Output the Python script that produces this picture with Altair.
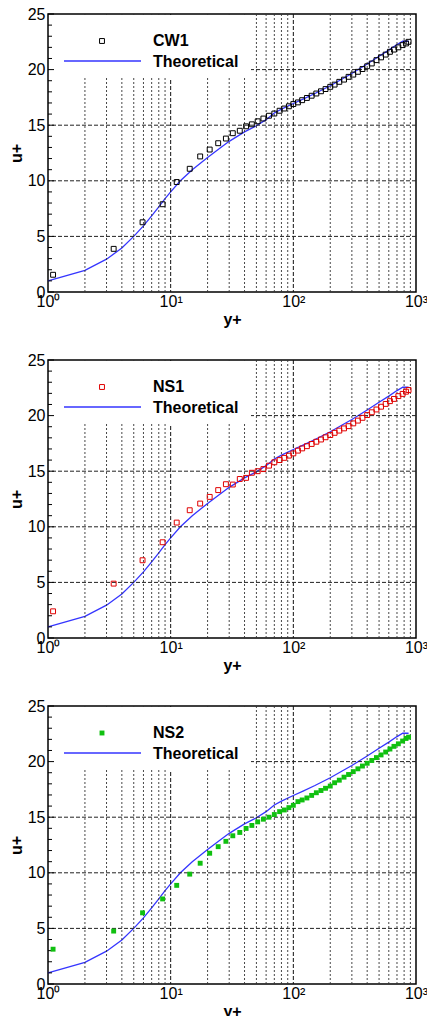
import altair as alt
import pandas as pd

# ---- data ----
yplus = [1.1, 3.43, 5.9, 8.6, 11.2, 14.3, 17.4, 20.8, 24.4, 28.2, 32.1, 36.6, 41.2, 45.9, 51.2,
         57.0, 63.3, 70.0, 77.3, 84.4, 92.0, 100, 109, 118, 129, 141, 154, 168, 183, 200,
         217, 237, 259, 282, 308, 336, 366, 400, 436, 476, 519, 566, 613, 661, 718, 778, 829, 870]

cw1_u = [1.55, 3.88, 6.27, 7.89, 9.89, 11.08, 12.19, 12.81, 13.38, 13.8, 14.28, 14.5, 14.9, 15.08, 15.35,
         15.6, 15.85, 16.05, 16.3, 16.5, 16.7, 16.9, 17.05, 17.25, 17.45, 17.65, 17.85, 18.05, 18.25, 18.45,
         18.65, 18.9, 19.1, 19.35, 19.55, 19.8, 20.05, 20.3, 20.55, 20.85, 21.1, 21.35, 21.6, 21.8, 22.0, 22.2, 22.35, 22.5]

ns1_u = [2.40, 4.89, 6.99, 8.61, 10.38, 11.49, 12.09, 12.69, 13.3, 13.83, 13.8, 14.3, 14.4, 14.86, 15.0,
         15.19, 15.5, 15.8, 16.0, 16.2, 16.4, 16.6, 16.85, 17.05, 17.25, 17.45, 17.65, 17.85, 18.05, 18.25,
         18.45, 18.65, 18.85, 19.05, 19.3, 19.55, 19.8, 20.05, 20.3, 20.55, 20.8, 21.05, 21.3, 21.5, 21.75, 21.95, 22.15, 22.3]

ns2_u = [3.13, 4.76, 6.40, 7.65, 8.87, 9.88, 10.86, 11.76, 12.35, 12.83, 13.33, 13.63, 13.99, 14.26, 14.58,
         14.82, 15.0, 15.24, 15.5, 15.65, 15.86, 16.07, 16.4, 16.55, 16.73, 16.96, 17.2, 17.4, 17.6, 17.8,
         18.1, 18.33, 18.6, 18.84, 19.1, 19.35, 19.6, 19.85, 20.1, 20.36, 20.6, 20.86, 21.13, 21.37, 21.6, 21.85, 22.08, 22.2]

theo_y = [1, 2, 3, 4, 5, 6, 7, 8, 9, 10, 12, 15, 20, 25, 30, 40, 50, 60, 70, 80, 100, 120, 150, 200,
          250, 300, 400, 500, 600, 700, 780, 870]
theo_u = [1.0, 1.95, 2.95, 3.95, 5.0, 5.95, 6.85, 7.65, 8.4, 9.0, 10.0, 11.0, 12.1, 12.9, 13.55, 14.4,
          14.95, 15.5, 16.1, 16.45, 16.95, 17.35, 17.85, 18.55, 19.15, 19.65, 20.5, 21.2, 21.75, 22.25, 22.55, 22.55]

minor_grid_x = [2, 3, 4, 5, 6, 7, 8, 9, 20, 30, 40, 50, 60, 70, 80, 90, 200, 300, 400, 500, 600, 700, 800, 900]
major_grid_x = [10, 100]
grid_y = [5, 10, 15, 20]
x_tick_values = [1, 10, 100, 1000]
y_tick_values = [0, 5, 10, 15, 20, 25]
y_minor_ticks = [v for v in range(1, 25) if v % 5 != 0]

W, H = 368, 278
FONT = "Liberation Sans"
BLUE = "#3535ff"

xscale = alt.Scale(type="log", domain=[1, 1000], nice=False)
yscale = alt.Scale(domain=[0, 25], nice=False, zero=False)

xaxis = alt.Axis(values=x_tick_values, title="y+",
                 labelExpr="datum.value == 1 ? '10⁰' : datum.value == 10 ? '10¹' : datum.value == 100 ? '10²' : '10³'",
                 ticks=False, domain=False, grid=False, labelFlush=False,
                 labelPadding=1, titlePadding=2,
                 labelFont=FONT, labelFontSize=16, labelColor="black",
                 titleFont=FONT, titleFontSize=16, titleFontWeight="bold", titleColor="black")
yaxis = alt.Axis(values=y_tick_values, title="u+", ticks=False, domain=False, grid=False,
                 labelPadding=3, titlePadding=3, labelFlush=False,
                 labelFont=FONT, labelFontSize=16, labelColor="black",
                 titleFont=FONT, titleFontSize=16, titleFontWeight="bold", titleColor="black")


def X(f):
    return alt.X(f, scale=xscale, axis=xaxis, title="y+")


def Y(f):
    return alt.Y(f, scale=yscale, axis=yaxis, title="u+")


def panel(name, uvals, color, filled):
    pts = pd.DataFrame({"yp": yplus, "u": uvals})
    theo = pd.DataFrame({"yp": theo_y, "u": theo_u})

    line = alt.Chart(theo).mark_line(color=BLUE, strokeWidth=1.3).encode(x=X("yp:Q"), y=Y("u:Q"))

    vminor = alt.Chart(pd.DataFrame({"g": minor_grid_x})).mark_rule(
        color="#333", strokeDash=[2, 2], strokeWidth=0.9
    ).encode(x=X("g:Q"))
    vmajor = alt.Chart(pd.DataFrame({"g": major_grid_x})).mark_rule(
        color="#111", strokeDash=[4, 2], strokeWidth=1
    ).encode(x=X("g:Q"))
    hgrid = alt.Chart(pd.DataFrame({"g": grid_y})).mark_rule(
        color="#222", strokeDash=[4, 2], strokeWidth=1
    ).encode(y=Y("g:Q"))

    box = alt.Chart(pd.DataFrame({"a": [0]})).mark_rect(color="white").encode(
        x=alt.value(1), x2=alt.value(203), y=alt.value(1), y2=alt.value(64)
    )

    tmajor = alt.Chart(pd.DataFrame({"t": y_tick_values})).mark_rule(color="black", strokeWidth=1).encode(
        y=Y("t:Q"), x=alt.value(0), x2=alt.value(6)
    )
    tminor = alt.Chart(pd.DataFrame({"t": y_minor_ticks})).mark_rule(color="black", strokeWidth=1).encode(
        y=Y("t:Q"), x=alt.value(0), x2=alt.value(4)
    )

    points = alt.Chart(pts).mark_point(
        shape="square", size=24, filled=filled, color=color, strokeWidth=1, opacity=1
    ).encode(x=X("yp:Q"), y=Y("u:Q"))

    leg_sym = alt.Chart(pd.DataFrame({"a": [0]})).mark_point(
        shape="square", size=24, filled=filled, color=color, strokeWidth=1, opacity=1
    ).encode(x=alt.value(54), y=alt.value(27))
    leg_line = alt.Chart(pd.DataFrame({"a": [0]})).mark_rule(color=BLUE, strokeWidth=1.3).encode(
        x=alt.value(16), x2=alt.value(93), y=alt.value(47)
    )
    leg_t1 = alt.Chart(pd.DataFrame({"a": [0]})).mark_text(
        align="left", baseline="middle", fontSize=16, fontWeight="bold", font=FONT, color="black"
    ).encode(x=alt.value(105), y=alt.value(27), text=alt.value(name))
    leg_t2 = alt.Chart(pd.DataFrame({"a": [0]})).mark_text(
        align="left", baseline="middle", fontSize=16, fontWeight="bold", font=FONT, color="black"
    ).encode(x=alt.value(105), y=alt.value(48), text=alt.value("Theoretical"))

    return alt.layer(line, vminor, vmajor, hgrid, box, tmajor, tminor, points,
                     leg_sym, leg_line, leg_t1, leg_t2).properties(width=W, height=H)


chart = alt.vconcat(
    panel("CW1", cw1_u, "black", False),
    panel("NS1", ns1_u, "#e00000", False),
    panel("NS2", ns2_u, "#10c010", True),
    spacing=23,
).properties(
    padding={"left": 7, "top": 5, "right": -2, "bottom": -4},
    background="white",
).configure_view(
    stroke="black", strokeWidth=1.5
)

chart.save("out.html", embed_options={"renderer": "svg", "actions": False})
